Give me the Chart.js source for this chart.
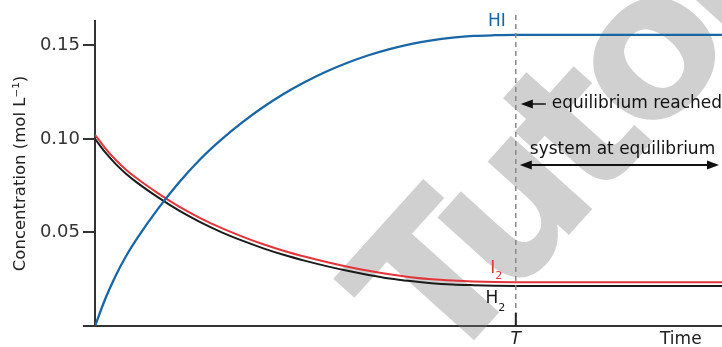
<!DOCTYPE html>
<html>
<head>
<meta charset="utf-8">
<script src="https://cdn.jsdelivr.net/npm/chart.js@4/dist/chart.umd.min.js"></script>
<style>
  html, body { margin: 0; padding: 0; background: #fff; }
  #wrap { width: 722px; height: 347px; }
</style>
</head>
<body>
<div id="wrap"><canvas id="chart"></canvas></div>
<script>
// time in arbitrary units, equilibrium reached at T = 10
const times  = [0, 0.25, 0.5, 0.75, 1.0, 1.5, 2.0, 2.5, 3.0, 3.5, 4.0, 4.5, 5.0, 5.5, 6.0, 6.5, 7.0, 7.5, 8.0, 8.5, 9.0, 9.5, 10, 14.9];
const hiConc = [0, 0.0148, 0.0273, 0.0378, 0.0468, 0.0627, 0.0768, 0.0891, 0.0996, 0.1088, 0.1170, 0.1242, 0.1305, 0.1360, 0.1407, 0.1447, 0.1480, 0.1507, 0.1527, 0.1541, 0.1550, 0.1554, 0.1556, 0.1556];
const i2Conc = [0.1022, 0.0948, 0.0886, 0.0833, 0.0788, 0.0709, 0.0638, 0.0577, 0.0524, 0.0478, 0.0437, 0.0401, 0.0370, 0.0342, 0.0317, 0.0295, 0.0276, 0.0261, 0.0250, 0.0243, 0.0238, 0.0235, 0.0234, 0.0234];
const h2Conc = [0.1000, 0.0926, 0.0864, 0.0811, 0.0766, 0.0687, 0.0616, 0.0555, 0.0502, 0.0456, 0.0415, 0.0379, 0.0348, 0.0320, 0.0295, 0.0273, 0.0254, 0.0240, 0.0229, 0.0222, 0.0218, 0.0215, 0.0214, 0.0214];
const yTicks = [0, 0.05, 0.10, 0.15];
const timeT = 10;
const timeMax = 14.9;
const yMax = 0.163;

const FONT = 'DejaVu Sans';

function toPoints(vals) {
    return times.map((t, i) => ({ x: t, y: vals[i] }));
}

function arrowHead(ctx, x, y, dir) {
    ctx.beginPath();
    ctx.moveTo(x, y);
    ctx.lineTo(x - dir * 12, y - 4.5);
    ctx.lineTo(x - dir * 12, y + 4.5);
    ctx.closePath();
    ctx.fill();
}

// faint diagonal watermark behind the curves
const watermark = {
    id: 'watermark',
    beforeDatasetsDraw(chart) {
        const ctx = chart.ctx;
        ctx.save();
        ctx.translate(441, 377);
        ctx.rotate(-48 * Math.PI / 180);
        ctx.font = 'bold 200px ' + FONT;
        ctx.letterSpacing = '-14px';
        ctx.fillStyle = 'rgba(120,120,120,0.35)';
        ctx.textBaseline = 'alphabetic';
        ctx.fillText('Tutorial', 0, 0);
        ctx.restore();
    }
};

const annotations = {
    id: 'annotations',
    afterDatasetsDraw(chart) {
        const ctx = chart.ctx;
        const xs = chart.scales.x;
        const ys = chart.scales.y;
        const xT = xs.getPixelForValue(timeT);
        const bottom = chart.chartArea.bottom;
        const right = chart.width;

        ctx.save();
        // dashed equilibrium line
        ctx.strokeStyle = '#8a8a8a';
        ctx.lineWidth = 1.5;
        ctx.setLineDash([5, 4]);
        ctx.beginPath();
        ctx.moveTo(xT, 15);
        ctx.lineTo(xT, bottom);
        ctx.stroke();
        ctx.setLineDash([]);

        // tick at T
        ctx.strokeStyle = '#222';
        ctx.lineWidth = 2;
        ctx.beginPath();
        ctx.moveTo(xT, bottom - 13);
        ctx.lineTo(xT, bottom);
        ctx.stroke();

        ctx.fillStyle = '#222';
        ctx.textBaseline = 'middle';
        ctx.font = 'italic 17px ' + FONT;
        ctx.textAlign = 'center';
        ctx.fillText('T', xT, 340);
        ctx.font = '17px ' + FONT;
        ctx.textAlign = 'left';
        ctx.fillText('Time', 660, 340);

        // curve labels
        const yHI = ys.getPixelForValue(hiConc[hiConc.length - 1]);
        ctx.fillStyle = '#1866a6';
        ctx.textAlign = 'center';
        ctx.fillText('HI', xT - 19, yHI - 13);

        const yI2 = ys.getPixelForValue(i2Conc[i2Conc.length - 1]);
        ctx.fillStyle = '#e2343a';
        ctx.fillText('I', xT - 23, yI2 - 14);
        ctx.font = '11px ' + FONT;
        ctx.fillText('2', xT - 17, yI2 - 6);

        const yH2 = ys.getPixelForValue(h2Conc[h2Conc.length - 1]);
        ctx.fillStyle = '#1a1a1a';
        ctx.font = '17px ' + FONT;
        ctx.fillText('H', xT - 24, yH2 + 13);
        ctx.font = '11px ' + FONT;
        ctx.fillText('2', xT - 14, yH2 + 22);

        // equilibrium reached arrow
        ctx.strokeStyle = '#111';
        ctx.fillStyle = '#111';
        ctx.lineWidth = 1.5;
        ctx.beginPath();
        ctx.moveTo(xT + 8, 104);
        ctx.lineTo(xT + 30, 104);
        ctx.stroke();
        arrowHead(ctx, xT + 5, 104, -1);
        ctx.font = '17px ' + FONT;
        ctx.textAlign = 'left';
        ctx.fillText('equilibrium reached', xT + 36, 104);

        // system at equilibrium double arrow
        ctx.fillText('system at equilibrium', xT + 14, 150);
        ctx.lineWidth = 2;
        ctx.beginPath();
        ctx.moveTo(xT + 10, 165);
        ctx.lineTo(right - 8, 165);
        ctx.stroke();
        arrowHead(ctx, xT + 4, 165, -1);
        arrowHead(ctx, right - 3, 165, 1);
        ctx.restore();
    }
};

const ctx = document.getElementById('chart').getContext('2d');
new Chart(ctx, {
    type: 'line',
    data: {
        datasets: [
            { label: 'HI', data: toPoints(hiConc), borderColor: '#1866a6', borderWidth: 2.3 },
            { label: 'I2', data: toPoints(i2Conc), borderColor: '#e2343a' },
            { label: 'H2', data: toPoints(h2Conc), borderColor: '#1a1a1a' }
        ]
    },
    options: {
        responsive: true,
        maintainAspectRatio: false,
        animation: false,
        layout: { padding: { top: 21, right: 0, left: 0, bottom: 0 } },
        elements: {
            point: { radius: 0 },
            line: { borderWidth: 2, fill: false, cubicInterpolationMode: 'monotone' }
        },
        plugins: {
            legend: { display: false },
            tooltip: { enabled: false }
        },
        scales: {
            x: {
                type: 'linear',
                min: 0,
                max: timeMax,
                grid: { display: false },
                ticks: { display: false },
                border: { display: true, color: '#333', width: 2 },
                afterFit: function(scale) { scale.height = 21; }
            },
            y: {
                min: 0,
                max: yMax,
                afterBuildTicks: function(scale) {
                    scale.ticks = yTicks.map(v => ({ value: v }));
                },
                ticks: {
                    color: '#333',
                    padding: 3,
                    font: { family: FONT, size: 18 },
                    callback: v => (v === 0 ? '' : v.toFixed(2))
                },
                grid: { drawOnChartArea: false, tickLength: 12, color: '#333', lineWidth: 2 },
                border: { display: true, color: '#333', width: 2 },
                title: {
                    display: true,
                    text: 'Concentration (mol L\u207B\u00B9)',
                    color: '#222',
                    font: { family: FONT, size: 16.5 },
                    padding: { top: 11, bottom: 0 }
                },
                afterFit: function(scale) { scale.width = 95; }
            }
        }
    },
    plugins: [watermark, annotations]
});
</script>
</body>
</html>
